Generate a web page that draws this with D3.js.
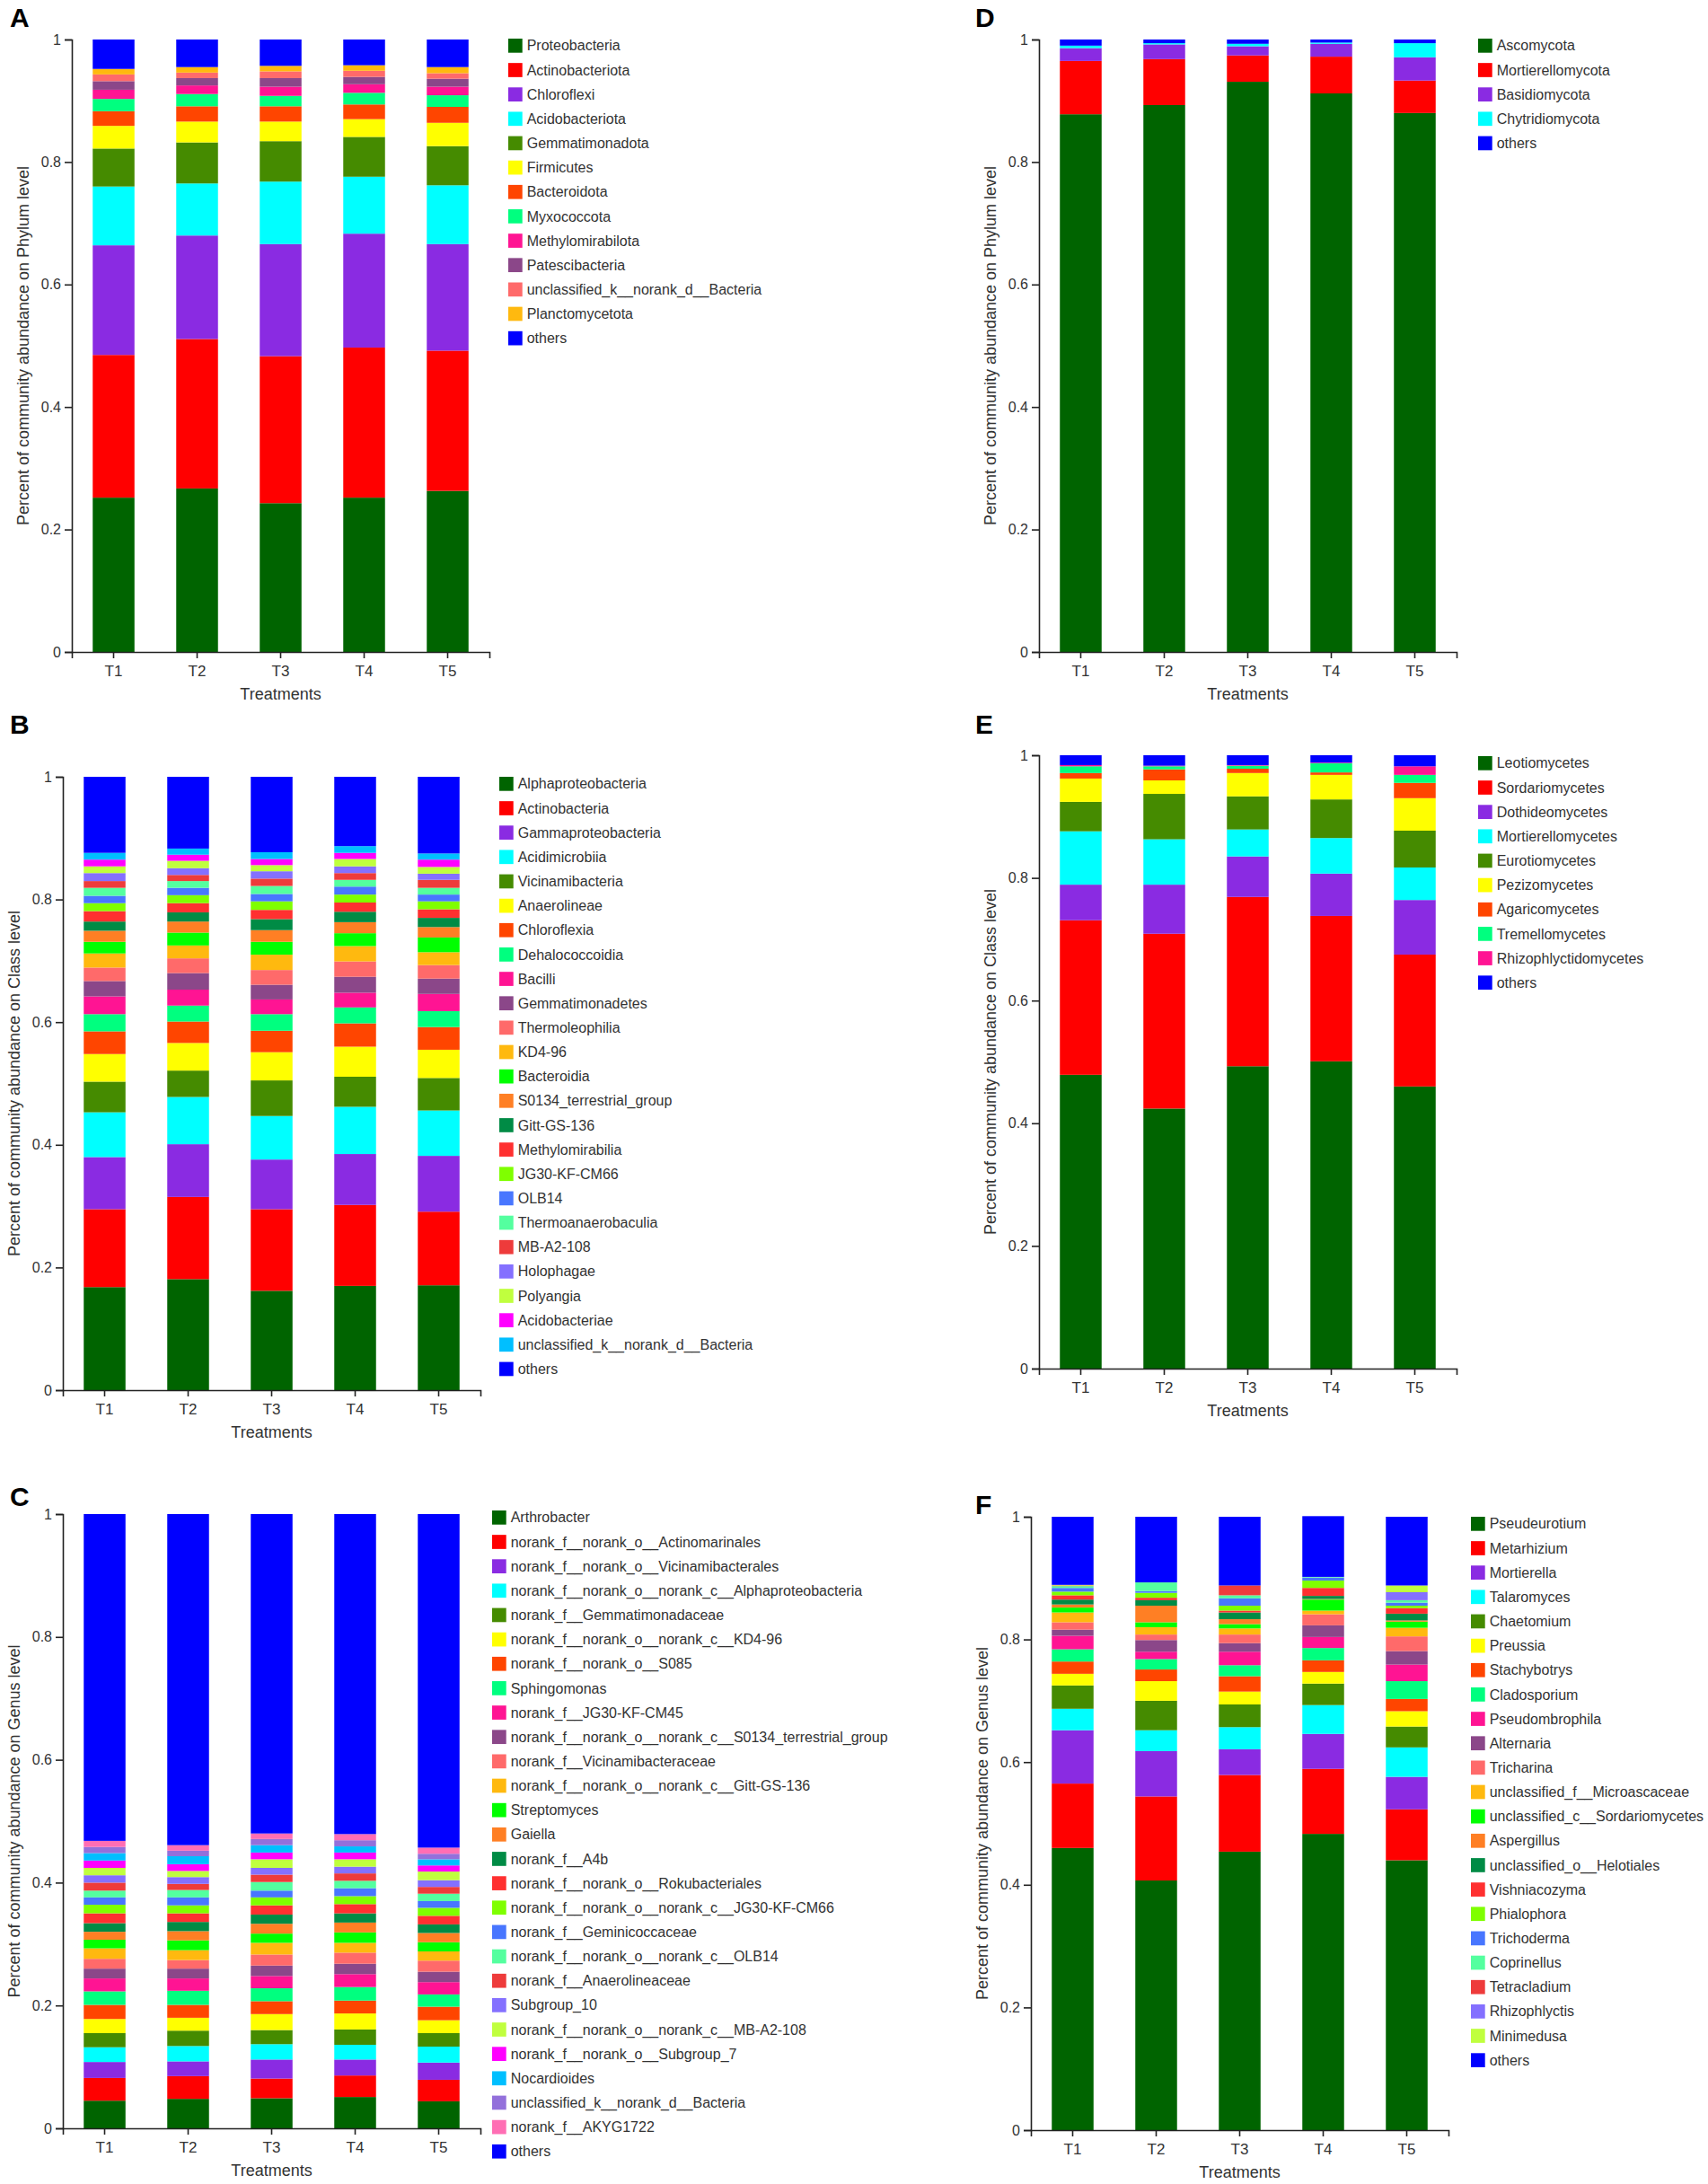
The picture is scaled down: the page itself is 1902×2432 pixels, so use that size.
<!DOCTYPE html>
<html>
<head>
<meta charset="utf-8">
<script src="https://cdn.jsdelivr.net/npm/d3@7"></script>
<style>
  html, body { margin: 0; padding: 0; background: #ffffff; }
  svg { display: block; font-family: "Liberation Sans", Arial, Helvetica, sans-serif; }
</style>
</head>
<body>
<script>
// ---------------- DATA ----------------
const treatments = ["T1", "T2", "T3", "T4", "T5"];
const yTickValues = [0, 0.2, 0.4, 0.6, 0.8, 1];
const yTickLabels = ["0", "0.2", "0.4", "0.6", "0.8", "1"];
const xAxisTitle = "Treatments";

const palette = ["#006400", "#FF0000", "#8A2BE2", "#00FFFF", "#458B00", "#FFFF00", "#FF4500",
  "#00FF7F", "#FF1493", "#8B4789", "#FF6A6A", "#FFB90F", "#00FF00", "#FF7F24", "#008B45",
  "#FF3030", "#7FFF00", "#4876FF", "#54FF9F", "#EE3B3B", "#8470FF", "#C0FF3E", "#FF00FF",
  "#00BFFF", "#9370DB", "#FF6EB4"];
const othersColor = "#0000FF";

// A: bacteria, phylum level (rows = taxa, columns = T1..T5)
const phylumBacTaxa = ["Proteobacteria", "Actinobacteriota", "Chloroflexi", "Acidobacteriota",
  "Gemmatimonadota", "Firmicutes", "Bacteroidota", "Myxococcota", "Methylomirabilota",
  "Patescibacteria", "unclassified_k__norank_d__Bacteria", "Planctomycetota", "others"];
const phylumBacValues = [
  [0.252, 0.267, 0.243, 0.252, 0.263],
  [0.233, 0.244, 0.240, 0.245, 0.229],
  [0.179, 0.169, 0.183, 0.186, 0.174],
  [0.096, 0.085, 0.102, 0.093, 0.096],
  [0.062, 0.067, 0.066, 0.065, 0.064],
  [0.037, 0.034, 0.032, 0.029, 0.038],
  [0.024, 0.025, 0.025, 0.024, 0.026],
  [0.020, 0.020, 0.017, 0.019, 0.019],
  [0.015, 0.014, 0.015, 0.014, 0.014],
  [0.014, 0.012, 0.014, 0.012, 0.013],
  [0.011, 0.009, 0.011, 0.010, 0.009],
  [0.009, 0.009, 0.009, 0.009, 0.010],
  [0.048, 0.045, 0.043, 0.042, 0.045]
];

// B: bacteria, class level
const classBacTaxa = ["Alphaproteobacteria", "Actinobacteria", "Gammaproteobacteria", "Acidimicrobiia",
  "Vicinamibacteria", "Anaerolineae", "Chloroflexia", "Dehalococcoidia", "Bacilli", "Gemmatimonadetes",
  "Thermoleophilia", "KD4-96", "Bacteroidia", "S0134_terrestrial_group", "Gitt-GS-136",
  "Methylomirabilia", "JG30-KF-CM66", "OLB14", "Thermoanaerobaculia", "MB-A2-108", "Holophagae",
  "Polyangia", "Acidobacteriae", "unclassified_k__norank_d__Bacteria", "others"];
const classBacValues = [
  [0.168, 0.181, 0.162, 0.170, 0.171],
  [0.127, 0.134, 0.133, 0.132, 0.120],
  [0.085, 0.086, 0.081, 0.083, 0.091],
  [0.073, 0.077, 0.071, 0.077, 0.074],
  [0.050, 0.043, 0.058, 0.049, 0.053],
  [0.045, 0.045, 0.046, 0.049, 0.046],
  [0.037, 0.035, 0.035, 0.038, 0.037],
  [0.028, 0.026, 0.027, 0.026, 0.026],
  [0.029, 0.026, 0.024, 0.024, 0.028],
  [0.025, 0.027, 0.024, 0.026, 0.025],
  [0.022, 0.024, 0.024, 0.025, 0.022],
  [0.023, 0.021, 0.025, 0.025, 0.021],
  [0.019, 0.021, 0.021, 0.021, 0.024],
  [0.018, 0.018, 0.019, 0.018, 0.017],
  [0.015, 0.015, 0.018, 0.017, 0.015],
  [0.017, 0.015, 0.015, 0.015, 0.014],
  [0.013, 0.013, 0.014, 0.013, 0.013],
  [0.012, 0.012, 0.012, 0.013, 0.011],
  [0.013, 0.011, 0.013, 0.011, 0.011],
  [0.011, 0.010, 0.012, 0.011, 0.013],
  [0.013, 0.011, 0.012, 0.011, 0.010],
  [0.011, 0.012, 0.010, 0.012, 0.011],
  [0.011, 0.010, 0.010, 0.010, 0.012],
  [0.011, 0.010, 0.011, 0.011, 0.010],
  [0.124, 0.117, 0.123, 0.113, 0.125]
];

// C: bacteria, genus level
const genusBacTaxa = ["Arthrobacter", "norank_f__norank_o__Actinomarinales",
  "norank_f__norank_o__Vicinamibacterales", "norank_f__norank_o__norank_c__Alphaproteobacteria",
  "norank_f__Gemmatimonadaceae", "norank_f__norank_o__norank_c__KD4-96", "norank_f__norank_o__S085",
  "Sphingomonas", "norank_f__JG30-KF-CM45", "norank_f__norank_o__norank_c__S0134_terrestrial_group",
  "norank_f__Vicinamibacteraceae", "norank_f__norank_o__norank_c__Gitt-GS-136", "Streptomyces",
  "Gaiella", "norank_f__A4b", "norank_f__norank_o__Rokubacteriales",
  "norank_f__norank_o__norank_c__JG30-KF-CM66", "norank_f__Geminicoccaceae",
  "norank_f__norank_o__norank_c__OLB14", "norank_f__Anaerolineaceae", "Subgroup_10",
  "norank_f__norank_o__norank_c__MB-A2-108", "norank_f__norank_o__Subgroup_7", "Nocardioides",
  "unclassified_k__norank_d__Bacteria", "norank_f__AKYG1722", "others"];
const genusBacValues = [
  [0.045, 0.048, 0.049, 0.051, 0.044],
  [0.037, 0.037, 0.032, 0.035, 0.035],
  [0.026, 0.024, 0.031, 0.026, 0.028],
  [0.024, 0.025, 0.025, 0.024, 0.026],
  [0.023, 0.025, 0.023, 0.025, 0.022],
  [0.023, 0.021, 0.026, 0.026, 0.021],
  [0.023, 0.021, 0.021, 0.021, 0.022],
  [0.022, 0.023, 0.021, 0.022, 0.020],
  [0.021, 0.020, 0.020, 0.021, 0.020],
  [0.016, 0.016, 0.017, 0.017, 0.017],
  [0.016, 0.014, 0.018, 0.018, 0.018],
  [0.017, 0.016, 0.019, 0.016, 0.015],
  [0.014, 0.016, 0.015, 0.017, 0.015],
  [0.013, 0.015, 0.016, 0.016, 0.015],
  [0.014, 0.015, 0.015, 0.015, 0.014],
  [0.016, 0.014, 0.015, 0.015, 0.014],
  [0.014, 0.013, 0.013, 0.013, 0.013],
  [0.012, 0.013, 0.011, 0.013, 0.011],
  [0.011, 0.012, 0.014, 0.012, 0.012],
  [0.013, 0.010, 0.012, 0.012, 0.011],
  [0.012, 0.011, 0.011, 0.011, 0.011],
  [0.012, 0.010, 0.014, 0.012, 0.014],
  [0.012, 0.011, 0.011, 0.011, 0.010],
  [0.012, 0.013, 0.012, 0.010, 0.010],
  [0.010, 0.009, 0.010, 0.010, 0.009],
  [0.010, 0.009, 0.009, 0.010, 0.010],
  [0.532, 0.539, 0.520, 0.521, 0.543]
];

// D: fungi, phylum level
const phylumFunTaxa = ["Ascomycota", "Mortierellomycota", "Basidiomycota", "Chytridiomycota", "others"];
const phylumFunValues = [
  [0.878, 0.893, 0.931, 0.912, 0.880],
  [0.087, 0.075, 0.043, 0.060, 0.053],
  [0.021, 0.024, 0.015, 0.021, 0.038],
  [0.004, 0.002, 0.004, 0.002, 0.023],
  [0.010, 0.006, 0.007, 0.005, 0.006]
];

// E: fungi, class level
const classFunTaxa = ["Leotiomycetes", "Sordariomycetes", "Dothideomycetes", "Mortierellomycetes",
  "Eurotiomycetes", "Pezizomycetes", "Agaricomycetes", "Tremellomycetes", "Rhizophlyctidomycetes", "others"];
const classFunValues = [
  [0.479, 0.424, 0.493, 0.501, 0.460],
  [0.252, 0.285, 0.276, 0.237, 0.215],
  [0.058, 0.080, 0.066, 0.069, 0.089],
  [0.087, 0.074, 0.044, 0.058, 0.053],
  [0.048, 0.074, 0.054, 0.063, 0.060],
  [0.038, 0.022, 0.038, 0.040, 0.053],
  [0.009, 0.018, 0.007, 0.004, 0.025],
  [0.011, 0.005, 0.005, 0.015, 0.013],
  [0.002, 0.001, 0.001, 0.001, 0.014],
  [0.016, 0.017, 0.016, 0.012, 0.018]
];

// F: fungi, genus level
const genusFunTaxa = ["Pseudeurotium", "Metarhizium", "Mortierella", "Talaromyces", "Chaetomium",
  "Preussia", "Stachybotrys", "Cladosporium", "Pseudombrophila", "Alternaria", "Tricharina",
  "unclassified_f__Microascaceae", "unclassified_c__Sordariomycetes", "Aspergillus",
  "unclassified_o__Helotiales", "Vishniacozyma", "Phialophora", "Trichoderma", "Coprinellus",
  "Tetracladium", "Rhizophlyctis", "Minimedusa", "others"];
const genusFunValues = [
  [0.460, 0.407, 0.454, 0.483, 0.440],
  [0.105, 0.137, 0.125, 0.106, 0.083],
  [0.087, 0.074, 0.042, 0.057, 0.053],
  [0.035, 0.034, 0.036, 0.047, 0.048],
  [0.038, 0.048, 0.037, 0.035, 0.034],
  [0.019, 0.032, 0.021, 0.019, 0.025],
  [0.020, 0.019, 0.025, 0.019, 0.020],
  [0.020, 0.017, 0.018, 0.020, 0.029],
  [0.022, 0.012, 0.022, 0.018, 0.027],
  [0.010, 0.019, 0.014, 0.019, 0.022],
  [0.012, 0.009, 0.014, 0.018, 0.024],
  [0.016, 0.012, 0.010, 0.006, 0.014],
  [0.008, 0.008, 0.007, 0.018, 0.010],
  [0.005, 0.027, 0.008, 0.001, 0.002],
  [0.008, 0.009, 0.011, 0.005, 0.011],
  [0.007, 0.004, 0.003, 0.013, 0.009],
  [0.006, 0.008, 0.008, 0.012, 0.004],
  [0.006, 0.003, 0.012, 0.005, 0.005],
  [0.003, 0.014, 0.005, 0.001, 0.004],
  [0.001, 0.000, 0.016, 0.000, 0.000],
  [0.000, 0.000, 0.000, 0.000, 0.013],
  [0.001, 0.000, 0.000, 0.000, 0.011],
  [0.111, 0.107, 0.112, 0.099, 0.112]
];

// ---------------- LAYOUT ----------------
const W = 1902, H = 2432;
const FONT_TICK = 16, FONT_XTICK = 17, FONT_TITLE = 18, FONT_LEGEND = 16;
const TEXT_COLOR = "#333333", AXIS_COLOR = "#222222";
const plotWidth = 465;
const legendPitch = 27.15, swatch = 15.7;

const panels = [
  { letter: "A", lx: 11, ly: 30, axisX: 80, y1: 44, y0: 726, legendX: 566, legendY: 43,
    title: "Percent of community abundance on Phylum level", taxa: phylumBacTaxa, values: phylumBacValues },
  { letter: "B", lx: 11, ly: 817, axisX: 70, y1: 865, y0: 1548, legendX: 556, legendY: 865,
    title: "Percent of community abundance on Class level", taxa: classBacTaxa, values: classBacValues },
  { letter: "C", lx: 11, ly: 1677, axisX: 70, y1: 1686, y0: 2370, legendX: 548, legendY: 1682,
    title: "Percent of community abundance on Genus level", taxa: genusBacTaxa, values: genusBacValues },
  { letter: "D", lx: 1086, ly: 30, axisX: 1157, y1: 44, y0: 726, legendX: 1646, legendY: 43,
    title: "Percent of community abundance on Phylum level", taxa: phylumFunTaxa, values: phylumFunValues },
  { letter: "E", lx: 1086, ly: 817, axisX: 1157, y1: 841, y0: 1524, legendX: 1646, legendY: 842,
    title: "Percent of community abundance on Class level", taxa: classFunTaxa, values: classFunValues },
  { letter: "F", lx: 1086, ly: 1686, axisX: 1148, y1: 1689, y0: 2372, legendX: 1638, legendY: 1689,
    title: "Percent of community abundance on Genus level", taxa: genusFunTaxa, values: genusFunValues }
];

const svg = d3.select("body").append("svg")
  .attr("width", W).attr("height", H)
  .attr("viewBox", `0 0 ${W} ${H}`);

svg.append("rect").attr("width", W).attr("height", H).attr("fill", "#ffffff");

function colorFor(taxon, i) {
  return taxon === "others" ? othersColor : palette[i % palette.length];
}

panels.forEach(p => {
  const g = svg.append("g");

  const x = d3.scaleBand().domain(treatments)
    .range([p.axisX, p.axisX + plotWidth])
    .paddingInner(0.5).paddingOuter(0.25);
  const y = d3.scaleLinear().domain([0, 1]).range([p.y0, p.y1]);

  // table for the stack
  const rows = treatments.map((t, j) => {
    const r = { treatment: t };
    p.taxa.forEach((tx, i) => { r[tx] = p.values[i][j]; });
    return r;
  });
  const series = d3.stack().keys(p.taxa)(rows);

  g.append("g").selectAll("g").data(series).join("g")
    .attr("fill", (s, i) => colorFor(s.key, i))
    .selectAll("rect").data(s => s).join("rect")
    .attr("x", d => x(d.data.treatment))
    .attr("width", x.bandwidth())
    .attr("y", d => y(d[1]))
    .attr("height", d => Math.max(0, y(d[0]) - y(d[1])));

  // y axis
  const yAxis = d3.axisLeft(y).tickValues(yTickValues)
    .tickFormat((d, i) => yTickLabels[i]).tickSize(8).tickSizeOuter(8).tickPadding(4);
  const ya = g.append("g").attr("transform", `translate(${p.axisX},0)`).call(yAxis);
  ya.selectAll("path, line").attr("stroke", AXIS_COLOR).attr("stroke-width", 1.6);
  ya.selectAll("text").attr("font-size", FONT_TICK).attr("fill", TEXT_COLOR)
    .attr("font-family", "'Liberation Sans', Arial, sans-serif");

  // x axis
  const xAxis = d3.axisBottom(x).tickSize(7).tickSizeOuter(7).tickPadding(8);
  const xa = g.append("g").attr("transform", `translate(0,${p.y0})`).call(xAxis);
  xa.selectAll("path, line").attr("stroke", AXIS_COLOR).attr("stroke-width", 1.6);
  xa.selectAll("text").attr("font-size", FONT_XTICK).attr("fill", TEXT_COLOR)
    .attr("font-family", "'Liberation Sans', Arial, sans-serif");

  // x title
  g.append("text")
    .attr("x", p.axisX + plotWidth / 2).attr("y", p.y0 + 53)
    .attr("text-anchor", "middle").attr("font-size", FONT_TITLE).attr("fill", TEXT_COLOR)
    .text(xAxisTitle);

  // y title
  const tcx = p.axisX - 54, tcy = (p.y0 + p.y1) / 2;
  g.append("text")
    .attr("transform", `translate(${tcx},${tcy}) rotate(-90)`)
    .attr("text-anchor", "middle").attr("dy", "0.35em")
    .attr("font-size", FONT_TITLE).attr("fill", TEXT_COLOR)
    .text(p.title);

  // panel letter
  g.append("text")
    .attr("x", p.lx).attr("y", p.ly)
    .attr("font-size", 30).attr("font-weight", "bold").attr("fill", "#000000")
    .text(p.letter);

  // legend
  const lg = g.append("g").attr("transform", `translate(${p.legendX},${p.legendY})`);
  const items = lg.selectAll("g").data(p.taxa).join("g")
    .attr("transform", (d, i) => `translate(0,${i * legendPitch})`);
  items.append("rect")
    .attr("width", swatch).attr("height", swatch)
    .attr("fill", (d, i) => colorFor(d, i));
  items.append("text")
    .attr("x", swatch + 5).attr("y", swatch / 2).attr("dy", "0.35em")
    .attr("font-size", FONT_LEGEND).attr("fill", TEXT_COLOR)
    .text(d => d);
});
</script>
</body>
</html>
